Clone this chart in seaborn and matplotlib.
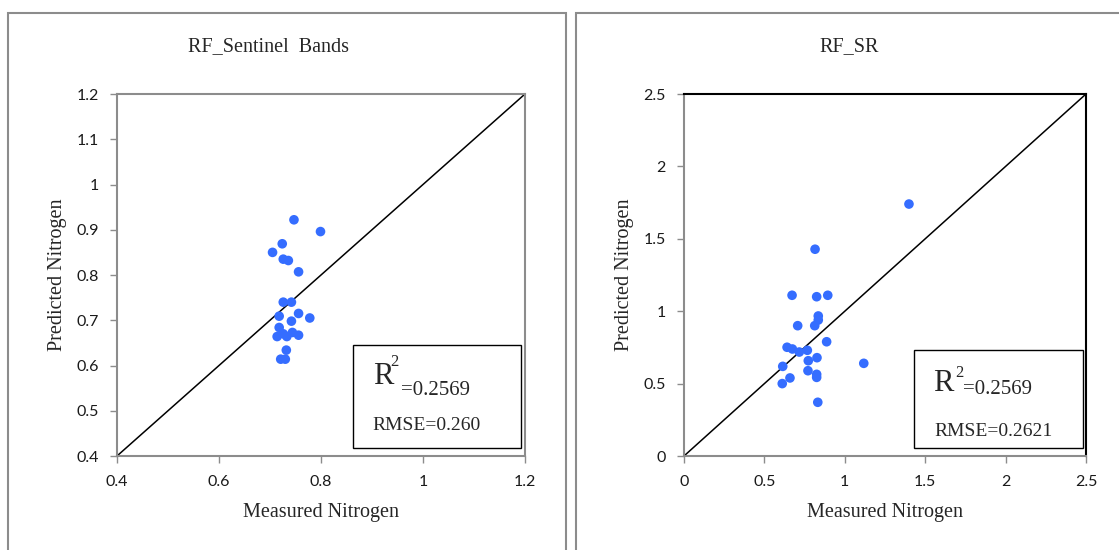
import numpy as np
import pandas as pd
import seaborn as sns
from matplotlib import pyplot as plt
from matplotlib.patches import Rectangle
from matplotlib.ticker import FuncFormatter

# measured vs predicted nitrogen
meas_sentinel = [0.747, 0.799, 0.724, 0.705, 0.726, 0.736, 0.756, 0.726, 0.742, 0.718, 0.756,
                 0.778, 0.742, 0.718, 0.714, 0.726, 0.733, 0.744, 0.756, 0.732, 0.721, 0.730]
pred_sentinel = [0.922, 0.896, 0.869, 0.850, 0.835, 0.832, 0.807, 0.740, 0.740, 0.709, 0.715,
                 0.705, 0.698, 0.684, 0.664, 0.670, 0.664, 0.673, 0.667, 0.634, 0.614, 0.614]

meas_sr = [1.399, 0.815, 0.672, 0.825, 0.894, 0.835, 0.835, 0.813, 0.707, 0.887, 0.641, 0.674,
           0.717, 0.767, 0.827, 0.773, 0.614, 1.118, 0.771, 0.825, 0.825, 0.659, 0.611, 0.832]
pred_sr = [1.740, 1.428, 1.110, 1.100, 1.110, 0.967, 0.939, 0.900, 0.900, 0.789, 0.751, 0.739,
           0.718, 0.730, 0.679, 0.658, 0.619, 0.640, 0.589, 0.564, 0.543, 0.539, 0.500, 0.371]

titles = ["RF_Sentinel  Bands", "RF_SR"]
r2_text = ["=0.2569", "=0.2569"]
rmse_text = ["RMSE=0.260", "RMSE=0.2621"]
limits = [(0.4, 1.2), (0.0, 2.5)]
xticks = [[0.4, 0.6, 0.8, 1.0, 1.2], [0, 0.5, 1, 1.5, 2, 2.5]]
yticks = [np.arange(0.4, 1.21, 0.1), [0, 0.5, 1, 1.5, 2, 2.5]]

sns.set_style("white")
plt.rcParams['font.family'] = ['Lato', 'DejaVu Sans']
serif = 'Liberation Serif'
grey = '#8c8c8c'
dot = '#356dff'

fig = plt.figure(figsize=(11.19, 5.5), dpi=100)

# panel frames
fig.patches.append(Rectangle((8 / 1119, -0.1), (566 - 8) / 1119, 1.1 - 13 / 550,
                             transform=fig.transFigure, fill=False, ec=grey, lw=1.5))
fig.patches.append(Rectangle((576 / 1119, -0.1), 0.6, 1.1 - 13 / 550,
                             transform=fig.transFigure, fill=False, ec=grey, lw=1.5))

ax1 = fig.add_axes([117 / 1119, 1 - 456 / 550, 408 / 1119, 362 / 550])
ax2 = fig.add_axes([684 / 1119, 1 - 456 / 550, 402 / 1119, 362 / 550])

df1 = pd.DataFrame({'measured': meas_sentinel, 'predicted': pred_sentinel})
df2 = pd.DataFrame({'measured': meas_sr, 'predicted': pred_sr})

fmt = FuncFormatter(lambda v, p: '{:g}'.format(round(v, 2)))

title_x = [268 / 1119, 849 / 1119]
box_geom = [(0.578, 0.022, 0.412, 0.285), (0.572, 0.022, 0.421, 0.271)]
r_pos = [(0.627, 0.199), (0.619, 0.180)]
sup_pos = [(0.669, 0.249), (0.674, 0.219)]
eq_pos = [(0.696, 0.169), (0.693, 0.171)]
rmse_pos = [(0.627, 0.072), (0.624, 0.056)]

for i, (ax, df) in enumerate([(ax1, df1), (ax2, df2)]):
    lo, hi = limits[i]
    ax.plot([lo, hi], [lo, hi], color='black', lw=1.1, zorder=2)
    sns.scatterplot(x='measured', y='predicted', data=df, ax=ax, color=dot, s=48,
                    edgecolor='none', zorder=3)
    ax.set_xlim(lo, hi)
    ax.set_ylim(lo, hi)
    ax.set_xticks(xticks[i])
    ax.set_yticks(yticks[i])
    ax.xaxis.set_major_formatter(fmt)
    ax.yaxis.set_major_formatter(fmt)
    ax.tick_params(direction='out', length=5, width=1, color=grey, labelsize=11.5,
                   labelcolor='#1a1a1a', bottom=True, left=True)
    ax.tick_params(axis='x', pad=9)
    ax.tick_params(axis='y', pad=8)
    for s in ax.spines.values():
        s.set_color(grey)
        s.set_linewidth(1.5)
    if i == 1:
        ax.spines['top'].set_color('black')
        ax.spines['right'].set_color('black')

    ax.set_xlabel("Measured Nitrogen", family=serif, fontsize=14.5, va='center')
    ax.set_ylabel("Predicted Nitrogen", family=serif, fontsize=14.5, va='center')
    ax.xaxis.set_label_coords(0.5, -0.157)
    ax.yaxis.set_label_coords(-0.147, 0.5)

    fig.text(title_x[i], 1 - 47 / 550, titles[i], family=serif, fontsize=14.5,
             ha='center', va='center')

    bx, by, bw, bh = box_geom[i]
    ax.add_patch(Rectangle((bx, by), bw, bh, transform=ax.transAxes, fill=True,
                           fc='white', ec='black', lw=1.0, zorder=4))
    ax.text(*r_pos[i], "R", transform=ax.transAxes, family=serif, fontsize=22,
            ha='left', va='baseline', zorder=5)
    ax.text(*sup_pos[i], "2", transform=ax.transAxes, family=serif, fontsize=12,
            ha='left', va='baseline', zorder=5)
    ax.text(*eq_pos[i], r2_text[i], transform=ax.transAxes, family=serif, fontsize=15,
            ha='left', va='baseline', zorder=5)
    ax.text(*rmse_pos[i], rmse_text[i], transform=ax.transAxes, family=serif, fontsize=14,
            ha='left', va='baseline', zorder=5)

plt.savefig("out.png", dpi=100)
